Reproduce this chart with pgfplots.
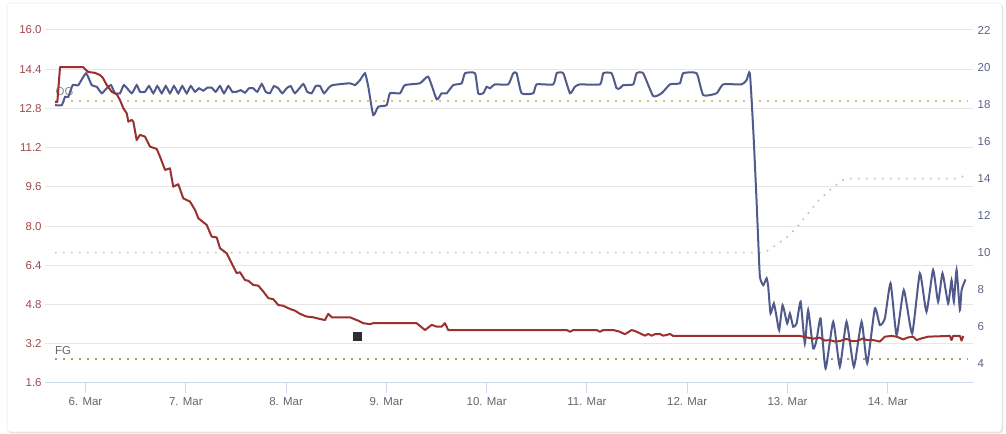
\documentclass[border=0pt]{standalone}
\usepackage{fontspec}
\setmainfont{Liberation Sans}
\usepackage{pgfplots}
\pgfplotsset{compat=1.18}

\definecolor{redline}{RGB}{155,48,48}
\definecolor{blueline}{RGB}{80,90,140}
\definecolor{leftlbl}{RGB}{160,72,76}
\definecolor{rightlbl}{RGB}{92,98,142}
\definecolor{gridgray}{RGB}{230,230,230}
\definecolor{xaxiscol}{RGB}{204,214,235}
\definecolor{ogcol}{RGB}{214,196,120}
\definecolor{fgcol}{RGB}{140,170,100}
\definecolor{tempgray}{RGB}{190,190,190}
\definecolor{flagcol}{RGB}{45,45,52}

\pgfplotsset{
  base/.style={
    at={(33.75pt,38.25pt)}, anchor=south west,
    scale only axis, width=696pt, height=264.75pt,
    xmin=-0.404, xmax=8.85,
    /pgf/number format/assume math mode=true,
    tick label style={font=\fontsize{8.6}{10}\selectfont},
  },
}

\begin{document}
\begin{tikzpicture}
\path[use as bounding box] (0,0) rectangle (754.5pt,325.5pt);
% card
\fill[black!12, rounded corners=3pt] (5.75pt,0.4pt) rectangle (752.5pt,322.5pt);
\filldraw[fill=white, draw=black!8, rounded corners=3pt] (5.25pt,1.5pt) rectangle (751.5pt,323.25pt);

% left axis: grid, labels, plot lines
\begin{axis}[base,
  ymin=1.6, ymax=16.0,
  axis x line*=bottom, axis y line*=left,
  y axis line style={draw=none},
  x axis line style={draw=xaxiscol, line width=0.75pt},
  ytick={1.6,3.2,4.8,6.4,8.0,9.6,11.2,12.8,14.4,16.0},
  yticklabels={1.6,3.2,4.8,6.4,8.0,9.6,11.2,12.8,14.4,16.0},
  yticklabel style={text=leftlbl, xshift=8.5pt},
  ytick style={draw=none},
  ymajorgrids, grid style={draw=gridgray, line width=0.75pt},
  xtick={0,1,2,3,4,5,6,7,8},
  xticklabels={6. Mar,7. Mar,8. Mar,9. Mar,10. Mar,11. Mar,12. Mar,13. Mar,14. Mar},
  xticklabel style={text=black!60},
  tick align=outside, major tick length=7.5pt,
  xtick style={draw=xaxiscol, line width=0.75pt},
]
\addplot[ogcol, line width=1.5pt, dash pattern=on 1.5pt off 4.5pt] coordinates {(-0.304,13.1) (8.80,13.1)};
\addplot[fgcol, line width=1.5pt, dash pattern=on 1.5pt off 4.5pt] coordinates {(-0.304,2.59) (8.80,2.59)};
\addplot[only marks, mark=square*, mark size=3pt, color=flagcol] coordinates {(2.714,3.51)};
\node[anchor=west, inner sep=0pt, text=black!45, font=\fontsize{8.6}{10}\selectfont] at (axis cs:-0.30,13.47) {OG};
\node[anchor=west, inner sep=0pt, text=black!60, font=\fontsize{8.6}{10}\selectfont] at (axis cs:-0.305,2.91) {FG};
\end{axis}

% right axis: temperature target and blue series
\begin{axis}[base,
  ymin=2.95, ymax=22.03,
  axis y line*=right, axis x line=none,
  y axis line style={draw=none},
  ytick={4,6,8,10,12,14,16,18,20,22},
  ytick style={draw=none},
  yticklabel style={text=rightlbl},
]
\addplot[tempgray, line width=1.2pt, dash pattern=on 1.2pt off 4.8pt] coordinates {
(-0.304,10.0) (6.745,10.0) (6.80,10.10) (6.857,10.31) (6.991,10.80) (7.107,11.45) (7.206,12.12)
(7.306,12.78) (7.423,13.38) (7.50,13.72) (7.555,13.92) (7.60,13.99) (7.642,14.0) (8.689,14.0) (8.769,14.16)
};
\addplot[blueline, line width=1.5pt, smooth, tension=0.3] coordinates {
(-0.304,17.97) (-0.237,17.97) (-0.204,18.42) (-0.171,18.42) (-0.128,19.05) (-0.072,19.05)
(0.005,19.69) (0.062,19.05) (0.112,18.96) (0.162,18.61) (0.211,18.88) (0.254,19.05)
(0.294,18.61) (0.344,18.61) (0.384,19.05) (0.461,18.61) (0.510,19.05) (0.543,18.69)
(0.593,18.69) (0.633,19.00) (0.676,18.61) (0.716,19.00) (0.760,18.61) (0.800,19.00)
(0.842,18.61) (0.882,19.00) (0.925,18.61) (0.965,19.00) (1.009,18.61) (1.049,19.00)
(1.092,18.69) (1.132,18.88) (1.174,18.75) (1.214,18.91) (1.258,18.91) (1.298,18.69)
(1.341,19.00) (1.381,18.61) (1.424,19.00) (1.464,18.69) (1.507,18.69) (1.547,18.78)
(1.590,18.64) (1.630,18.88) (1.673,18.88) (1.713,18.69) (1.757,19.11) (1.797,18.69)
(1.839,18.61) (1.879,19.00) (1.922,18.88) (1.962,18.61) (2.006,18.88) (2.046,19.00)
(2.089,18.61) (2.171,19.11) (2.211,18.69) (2.255,18.61) (2.295,19.00) (2.338,19.00)
(2.378,18.61) (2.421,18.88) (2.461,19.05) (2.637,19.15) (2.687,19.05) (2.737,19.32)
(2.787,19.69) (2.820,18.96) (2.869,17.43) (2.919,17.88) (3.003,17.97) (3.036,18.61)
(3.136,18.61) (3.185,19.05) (3.335,19.15) (3.418,19.50) (3.502,18.28) (3.551,18.61)
(3.601,18.61) (3.667,19.05) (3.751,19.15) (3.784,19.69) (3.884,19.69) (3.916,18.61)
(3.966,18.61) (4.000,18.96) (4.033,18.88) (4.083,19.09) (4.215,19.09) (4.265,19.69)
(4.299,19.69) (4.349,18.61) (4.465,18.61) (4.499,19.09) (4.664,19.09) (4.698,19.69)
(4.764,19.69) (4.831,18.61) (4.880,18.96) (4.930,19.09) (5.130,19.09) (5.163,19.69)
(5.246,19.69) (5.296,18.88) (5.329,18.88) (5.362,19.05) (5.462,19.09) (5.495,19.69)
(5.561,19.69) (5.661,18.46) (5.745,18.61) (5.828,19.09) (5.927,19.15) (5.960,19.69)
(6.094,19.69) (6.160,18.51) (6.293,18.61) (6.359,19.09) (6.542,19.09) (6.592,19.32)
(6.625,19.69) (6.660,16.50) (6.690,13.00) (6.708,10.68) (6.725,8.69) (6.758,8.24) (6.792,8.61)
(6.808,8.15) (6.831,6.71) (6.864,7.25) (6.891,6.53) (6.917,5.81) (6.951,7.16)
(6.997,6.17) (7.024,6.71) (7.057,5.99) (7.091,6.17) (7.131,7.34) (7.173,5.09)
(7.206,6.89) (7.256,4.82) (7.290,5.27) (7.330,6.44) (7.380,3.74) (7.456,6.26)
(7.522,3.83) (7.589,6.26) (7.662,3.83) (7.739,6.26) (7.795,4.01) (7.871,6.98)
(7.921,6.08) (7.971,6.44) (8.028,8.34) (8.088,5.54) (8.160,7.97) (8.243,5.63)
(8.320,8.88) (8.386,6.80) (8.452,9.06) (8.502,7.34) (8.546,8.88) (8.602,7.25)
(8.636,8.51) (8.659,7.34) (8.686,9.06) (8.719,6.89) (8.736,7.97) (8.775,8.55)
};
\end{axis}

% red series on top
\begin{axis}[base, ymin=1.6, ymax=16.0, hide axis]
\addplot[redline, line width=1.5pt, line join=round] coordinates {
(-0.304,13.06) (-0.281,13.06) (-0.254,14.49) (-0.025,14.49) (0.025,14.29) (0.095,14.25)
(0.145,14.16) (0.174,14.04) (0.211,13.76) (0.261,13.48) (0.311,13.38) (0.344,13.14)
(0.377,12.81) (0.411,12.60) (0.427,12.26) (0.461,12.33) (0.477,12.26) (0.510,11.51)
(0.543,11.72) (0.593,11.65) (0.643,11.24) (0.710,11.15) (0.743,10.83) (0.793,10.29)
(0.842,10.36) (0.875,9.61) (0.925,9.71) (0.975,9.13) (1.042,9.00) (1.092,8.66)
(1.125,8.32) (1.208,8.05) (1.258,7.57) (1.308,7.54) (1.341,7.10) (1.408,6.89)
(1.458,6.48) (1.507,6.08) (1.540,6.12) (1.590,5.80) (1.623,5.77) (1.673,5.60)
(1.723,5.57) (1.773,5.33) (1.823,5.06) (1.872,5.02) (1.922,4.78) (1.972,4.75)
(2.039,4.62) (2.089,4.55) (2.139,4.42) (2.205,4.31) (2.271,4.28) (2.338,4.21)
(2.388,4.17) (2.421,4.42) (2.455,4.28) (2.637,4.28) (2.720,4.14) (2.770,4.04)
(2.837,4.00) (2.869,4.04) (3.302,4.04) (3.385,3.76) (3.452,3.97) (3.501,3.90)
(3.551,3.90) (3.584,4.04) (3.617,3.76) (4.798,3.76) (4.831,3.69) (4.863,3.76)
(5.097,3.76) (5.130,3.69) (5.163,3.76) (5.262,3.76) (5.329,3.69) (5.379,3.59)
(5.446,3.76) (5.479,3.72) (5.528,3.63) (5.578,3.53) (5.611,3.60) (5.645,3.53)
(5.678,3.59) (5.728,3.60) (5.761,3.53) (5.795,3.56) (5.828,3.60) (5.860,3.52)
(7.124,3.52) (7.190,3.46) (7.256,3.41) (7.323,3.45) (7.373,3.33) (7.423,3.35)
(7.473,3.29) (7.522,3.31) (7.589,3.40) (7.639,3.31) (7.689,3.31) (7.755,3.42)
(7.789,3.35) (7.854,3.35) (7.921,3.29) (7.971,3.49) (8.038,3.52) (8.088,3.49)
(8.153,3.38) (8.203,3.46) (8.253,3.49) (8.287,3.35) (8.337,3.42) (8.403,3.49)
(8.619,3.52) (8.636,3.35) (8.652,3.52) (8.719,3.52) (8.736,3.33) (8.752,3.52)
};
\end{axis}
\end{tikzpicture}
\end{document}
